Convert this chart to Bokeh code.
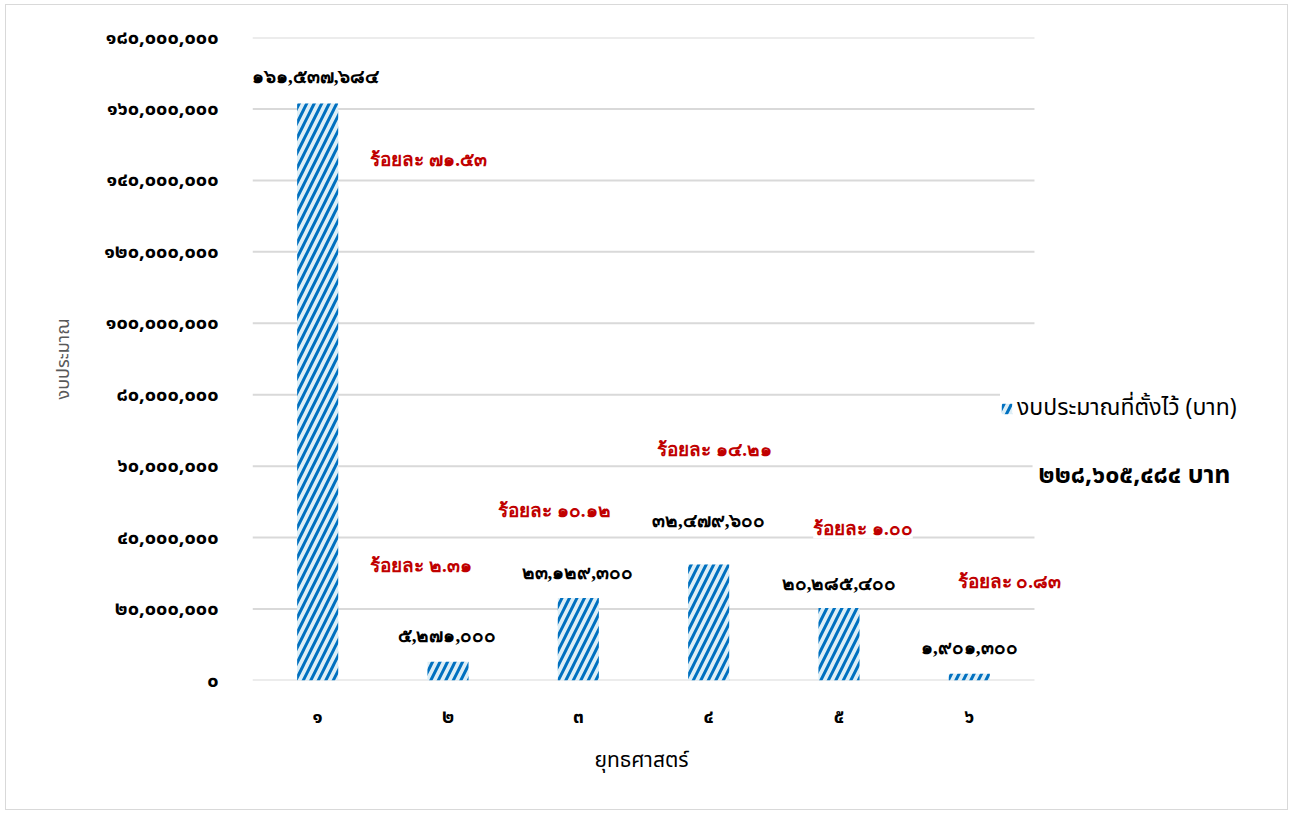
from bokeh.plotting import figure
from bokeh.models import (ColumnDataSource, Range1d, FixedTicker, Title,
                          LabelSet, Label, Legend, LegendItem)
from bokeh.embed import file_html
from bokeh.resources import INLINE

# ---------------- data ----------------
categories = ["๑", "๒", "๓", "๔", "๕", "๖"]
budget = [161537684, 5271000, 23129300, 32479600, 20285400, 1901300]
value_labels = ["๑๖๑,๕๓๗,๖๘๔", "๕,๒๗๑,๐๐๐", "๒๓,๑๒๙,๓๐๐",
                "๓๒,๔๗๙,๖๐๐", "๒๐,๒๘๕,๔๐๐", "๑,๙๐๑,๓๐๐"]
percent_labels = ["ร้อยละ ๗๑.๕๓", "ร้อยละ ๒.๓๑", "ร้อยละ ๑๐.๑๒",
                  "ร้อยละ ๑๔.๒๑", "ร้อยละ ๑.๐๐", "ร้อยละ ๐.๘๓"]
y_ticks = [0, 20000000, 40000000, 60000000, 80000000, 100000000,
           120000000, 140000000, 160000000, 180000000]
y_tick_labels = ["๐", "๒๐,๐๐๐,๐๐๐", "๔๐,๐๐๐,๐๐๐", "๖๐,๐๐๐,๐๐๐", "๘๐,๐๐๐,๐๐๐",
                 "๑๐๐,๐๐๐,๐๐๐", "๑๒๐,๐๐๐,๐๐๐", "๑๔๐,๐๐๐,๐๐๐", "๑๖๐,๐๐๐,๐๐๐",
                 "๑๘๐,๐๐๐,๐๐๐"]
series_name = "งบประมาณที่ตั้งไว้ (บาท)"
total_label = "๒๒๘,๖๐๕,๔๘๔ บาท"
x_title = "ยุทธศาสตร์"
y_title = "งบประมาณ"

# ---------------- style / layout ----------------
FONT = "Tahoma, Noto Sans Thai, Leelawadee UI, Loma, Garuda, sans-serif"
GRID = "#d9d9d9"
RED = "#c00000"
BAR_FILL = "#ddeef6"
BAR_HATCH = "#0070c0"

W, H = 1283, 806
LEFT, RIGHT, TOP, BOTTOM = 246, 6, 32, 131
SLOT = 130.33                      # pixels per category slot
n = len(categories)
x_pos = [i + 1 for i in range(n)]
x_max = 0.5 + (W - LEFT - RIGHT) / SLOT

# manual label placement (pixels relative to bar centre / bar top)
val_dx = [-2, -1, -1, 0, 0, 0]
val_dy = [27, 26, 25, 44, 25, 26]
pct_dx = [111, -27, -24, 6, 24, 40]
pct_dy = [-56, 96, 87, 115, 80, 92]

src = ColumnDataSource(dict(x=x_pos, val=budget, vlab=value_labels,
                            plab=percent_labels, vdx=val_dx, vdy=val_dy,
                            pdx=pct_dx, pdy=pct_dy))

p = figure(width=W, height=H, output_backend="svg", toolbar_location=None,
           x_range=Range1d(0.5, x_max),
           y_range=Range1d(y_ticks[0], y_ticks[-1]),
           min_border_left=LEFT, min_border_right=RIGHT,
           min_border_top=TOP, min_border_bottom=BOTTOM)
p.styles = {"border": "1px solid #d9d9d9", "margin-left": "5px", "margin-top": "4px"}
p.outline_line_color = None
p.xgrid.grid_line_color = None
p.ygrid.grid_line_color = None

# gridlines limited to the category area
grid_src = ColumnDataSource(dict(y=y_ticks, x0=[0.5] * len(y_ticks),
                                 x1=[0.5 + n] * len(y_ticks)))
p.segment(x0="x0", x1="x1", y0="y", y1="y", source=grid_src,
          line_color=GRID, line_width=2)

r = p.vbar(x="x", top="val", width=0.315, source=src,
           fill_color=BAR_FILL, line_color=None,
           hatch_pattern="/", hatch_color=BAR_HATCH,
           hatch_scale=15, hatch_weight=3)

# axes
p.yaxis.ticker = FixedTicker(ticks=y_ticks)
p.yaxis.major_label_overrides = {t: l for t, l in zip(y_ticks, y_tick_labels)}
p.xaxis.ticker = FixedTicker(ticks=x_pos)
p.xaxis.major_label_overrides = {x: c for x, c in zip(x_pos, categories)}
for ax in (p.xaxis[0], p.yaxis[0]):
    ax.axis_line_color = None
    ax.major_tick_line_color = None
    ax.minor_tick_line_color = None
    ax.major_label_text_font = FONT
    ax.axis_label_text_font = FONT
    ax.axis_label_text_font_style = "normal"
p.yaxis.major_label_text_font_size = "20px"
p.yaxis.major_label_text_font_style = "bold"
p.yaxis.major_label_text_color = "#000000"
p.yaxis.major_label_standoff = 28
p.yaxis.axis_label = y_title
p.yaxis.axis_label_text_font_size = "18px"
p.yaxis.axis_label_text_color = "#595959"
p.yaxis.axis_label_standoff = 24

p.xaxis.major_label_text_font_size = "19px"
p.xaxis.major_label_text_font_style = "bold"
p.xaxis.major_label_text_color = "#000000"
p.xaxis.major_label_standoff = 16

# x-axis title centred under the category area (not the whole frame)
p.add_layout(Title(text=x_title, align="left", offset=342, standoff=16,
                   text_font=FONT, text_font_size="21px", text_font_style="normal",
                   text_color="#000000"), "below")

# value labels
p.add_layout(LabelSet(x="x", y="val", text="vlab", source=src,
                      x_offset="vdx", y_offset="vdy",
                      text_align="center", text_baseline="middle",
                      text_font=FONT, text_font_size="19px", text_font_style="bold",
                      text_color="#000000", background_fill_color="white"))
# percentage labels
p.add_layout(LabelSet(x="x", y="val", text="plab", source=src,
                      x_offset="pdx", y_offset="pdy",
                      text_align="center", text_baseline="middle",
                      text_font=FONT, text_font_size="19px", text_font_style="bold",
                      text_color=RED, background_fill_color="white"))

# legend
legend = Legend(items=[LegendItem(label=series_name, renderers=[r])],
                location=(748, 255), orientation="vertical",
                label_text_font=FONT, label_text_font_size="23px",
                label_text_color="#000000",
                glyph_width=13, glyph_height=13, label_standoff=4,
                padding=2, margin=0, border_line_color=None,
                background_fill_color="white", background_fill_alpha=1.0)
p.add_layout(legend)

# total (screen units are relative to the plot frame)
p.add_layout(Label(x=882, y=206, x_units="screen", y_units="screen",
                   text=total_label, text_align="center", text_baseline="middle",
                   text_font=FONT, text_font_size="25px", text_font_style="bold",
                   text_color="#000000", background_fill_color="white",
                   padding=6))

open("out.html", "w").write(file_html(p, INLINE))
